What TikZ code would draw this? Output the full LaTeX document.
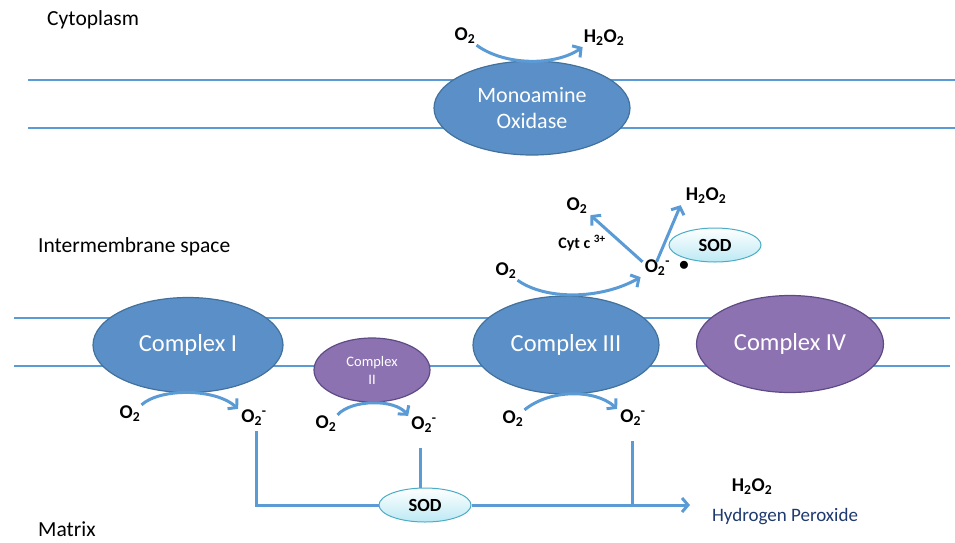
\documentclass[tikz,border=0pt]{standalone}
\usepackage{fontspec}
\setmainfont{Carlito}
\usetikzlibrary{arrows.meta,shapes.geometric,positioning}
\definecolor{memblue}{HTML}{5B9BD5}
\definecolor{cblue}{HTML}{5B8FC7}
\definecolor{cblueline}{HTML}{41719C}
\definecolor{cpurple}{HTML}{8C72B0}
\definecolor{cpurpleline}{HTML}{5E4B85}
\definecolor{sodline}{HTML}{4BACC6}
\definecolor{sodfill}{HTML}{BCE9F4}
\definecolor{navy}{HTML}{1F3A6E}

\begin{document}
\begin{tikzpicture}[x=1pt,y=-1pt,
    mem/.style={memblue,line width=2pt},
    flow/.style={memblue,line width=3pt},
    arr/.style={flow,-{Straight Barb[length=6pt,width=14pt,line width=3pt]}},
    cplx/.style={ellipse,draw=cblueline,fill=cblue,line width=1.2pt,text=white,align=center,inner sep=0pt},
    cplxp/.style={cplx,draw=cpurpleline,fill=cpurple},
    sod/.style={ellipse,draw=sodline,top color=white,bottom color=sodfill,line width=1pt,
      minimum width=92pt,minimum height=34pt,font=\fontsize{18.5}{20}\selectfont\bfseries},
    mol/.style={font=\fontsize{19.5}{21}\selectfont\bfseries,inner sep=1pt},
    region/.style={font=\fontsize{21.5}{24}\selectfont,anchor=west,inner sep=0pt}]
  \useasboundingbox (0,0) rectangle (955,542);

  % membranes
  \draw[mem] (28,80) -- (955,80);
  \draw[mem] (28,128) -- (955,128);
  \draw[mem] (14,318) -- (950,318);
  \draw[mem] (14,366) -- (950,366);

  % regions
  \node[region] (cyto) at (47,20) {Cytoplasm};
  \node[region] (ims) at (38,247) {Intermembrane space};
  \node[region] (mtx) at (38,529) {Matrix};

  % proteins
  \node[cplx,minimum width=196pt,minimum height=94pt,font=\fontsize{22}{26}\selectfont] (mao) at (532,108) {Monoamine\\Oxidase};
  \node[cplx,minimum width=190pt,minimum height=95pt,font=\fontsize{24.5}{27}\selectfont] (c1) at (188,345) {Complex I};
  \node[cplxp,minimum width=116pt,minimum height=64pt,font=\fontsize{14.5}{18}\selectfont] (c2) at (372,370) {Complex\\II};
  \node[cplx,minimum width=186pt,minimum height=98pt,font=\fontsize{24.5}{27}\selectfont] (c3) at (566,345) {Complex III};
  \node[cplxp,minimum width=187pt,minimum height=97pt,font=\fontsize{24.5}{27}\selectfont] (c4) at (790,344) {Complex IV};

  % monoamine oxidase
  \node[mol] (mo2) at (465,36) {O\textsubscript{2}};
  \node[mol] (mh2o2) at (604,38) {H\textsubscript{2}O\textsubscript{2}};
  \draw[arr] (mo2.south east) .. controls (505,66) and (555,66) .. (mh2o2.south west);

  % intermembrane space
  \node[mol] (io2) at (506,271) {O\textsubscript{2}};
  \node[mol] (isup) at (667,268) {O\textsubscript{2}\textsuperscript{-}~~\raisebox{2pt}{$\bullet$}};
  \node[mol] (io2b) at (577,206) {O\textsubscript{2}};
  \node[mol] (ih2o2) at (706,196) {H\textsubscript{2}O\textsubscript{2}};
  \node[font=\fontsize{16}{18}\selectfont\bfseries] (cytc) at (582,243) {Cyt c \textsuperscript{3+}};
  \node[sod] (sod1) at (715,245) {SOD};
  \draw[arr] (io2.south east) .. controls (545,300) and (600,300) .. ([xshift=-3pt]isup.south west);
  \draw[arr] ([xshift=-1pt,yshift=-3pt]isup.north west) -- ([xshift=2pt]io2b.south east);
  \draw[arr] ([xshift=13pt,yshift=-3pt]isup.north west) -- ([xshift=-4pt]ih2o2.south west);

  % matrix
  \node[mol] (mo2a) at (130,414) {O\textsubscript{2}};
  \node[mol] (msa) at (254,418) {O\textsubscript{2}\textsuperscript{-}};
  \node[mol] (mo2b) at (326,424) {O\textsubscript{2}};
  \node[mol] (msb) at (424,425) {O\textsubscript{2}\textsuperscript{-}};
  \node[mol] (mo2c) at (513,419) {O\textsubscript{2}};
  \node[mol] (msc) at (633,418) {O\textsubscript{2}\textsuperscript{-}};
  \draw[arr] (mo2a.north east) .. controls (160,388) and (215,388) .. ([xshift=-2pt]msa.north west);
  \draw[arr] (mo2b.north east) .. controls (352,399) and (395,399) .. ([xshift=-2pt]msb.north west);
  \draw[arr] (mo2c.north east) .. controls (550,389) and (595,389) .. ([xshift=-2pt]msc.north west);

  \node[sod] (sod2) at (425,505) {SOD};
  \node[mol] (hp) at (752,487) {H\textsubscript{2}O\textsubscript{2}};
  \node[font=\fontsize{19}{21}\selectfont,text=navy] (hpname) at (785,517) {Hydrogen Peroxide};
  \coordinate (hpend) at (690,505);

  \draw[flow,shorten <=4pt] ([xshift=2pt]msa.south) |- (sod2.west);
  \draw[flow,shorten <=14pt] ([xshift=-4pt]msb.south) -- ([xshift=-4pt]msb.south |- sod2.north);
  \draw[arr] (sod2.east) -- (hpend);
  \draw[flow,shorten <=14pt] ([xshift=-1pt]msc.south) -- ([xshift=-1pt]msc.south |- hpend);
\end{tikzpicture}
\end{document}
